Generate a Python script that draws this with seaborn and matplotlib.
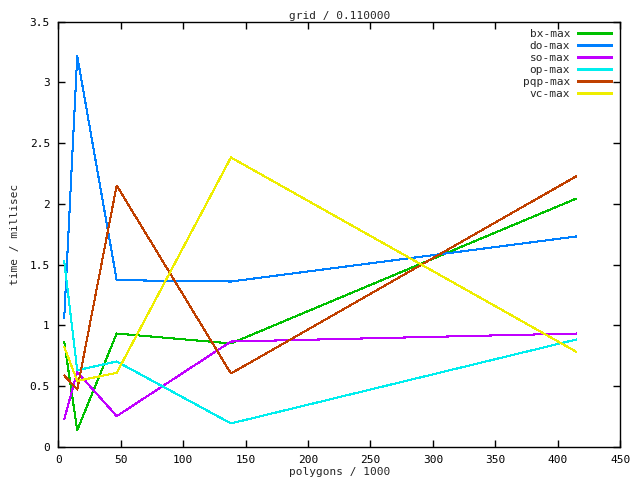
"""
gnuplot-style timing chart redrawn with seaborn
"""
import matplotlib
matplotlib.use('Agg')
import matplotlib.pyplot as plt
import matplotlib.ticker as mticker
import pandas as pd
import seaborn as sns

# polygons / 1000
polygons = [4.8, 15.2, 46.8, 138.3, 415.0]

# time / millisec per method
bx_max = [0.864, 0.137, 0.933, 0.851, 2.044]
do_max = [1.062, 3.216, 1.372, 1.361, 1.732]
so_max = [0.228, 0.617, 0.253, 0.867, 0.933]
op_max = [1.528, 0.631, 0.703, 0.193, 0.884]
pqp_max = [0.588, 0.472, 2.151, 0.604, 2.228]
vc_max = [0.823, 0.543, 0.609, 2.382, 0.782]

series_names = ['bx-max', 'do-max', 'so-max', 'op-max', 'pqp-max', 'vc-max']
series_values = [bx_max, do_max, so_max, op_max, pqp_max, vc_max]
colors = ['#00c000', '#0080ff', '#c000ff', '#00eeee', '#c04000', '#eeee00']

# long-form table for seaborn
rows = []
for name, vals in zip(series_names, series_values):
    for x, y in zip(polygons, vals):
        rows.append({'polygons': x, 'time': y, 'method': name})
df = pd.DataFrame(rows)

sns.set_style('ticks')
plt.rcParams['font.family'] = ['DejaVu Sans Mono']
plt.rcParams['font.size'] = 8
plt.rcParams['lines.antialiased'] = False

fig = plt.figure(figsize=(6.4, 4.8), dpi=100)
ax = fig.add_axes([0.091, 0.069, 0.878, 0.886])

sns.lineplot(
    data=df, x='polygons', y='time', hue='method',
    hue_order=series_names, palette=colors,
    sort=False, estimator=None, linewidth=0.75, ax=ax
)

ax.set_xlim(0, 450)
ax.set_ylim(0, 3.5)
ax.xaxis.set_major_locator(mticker.MultipleLocator(50))
ax.yaxis.set_major_locator(mticker.MultipleLocator(0.5))
ax.yaxis.set_major_formatter(mticker.FormatStrFormatter('%g'))
ax.tick_params(direction='in', length=5, width=1, top=True, right=True,
               colors='black', labelsize=8, pad=6)
for spine in ax.spines.values():
    spine.set_visible(True)
    spine.set_linewidth(1)
    spine.set_color('black')

ax.set_xlabel('polygons / 1000', fontsize=8, labelpad=1)
ax.set_ylabel('time / millisec', fontsize=8, labelpad=7)
ax.set_title('grid / 0.110000', fontsize=8, pad=2)

leg = ax.legend(loc='upper right', frameon=False, markerfirst=False,
                handlelength=3.2, handletextpad=0.6, labelspacing=0.18,
                borderaxespad=0.3, fontsize=8)
for line in leg.get_lines():
    line.set_linewidth(0.75)

fig.savefig('out.png', dpi=100)
